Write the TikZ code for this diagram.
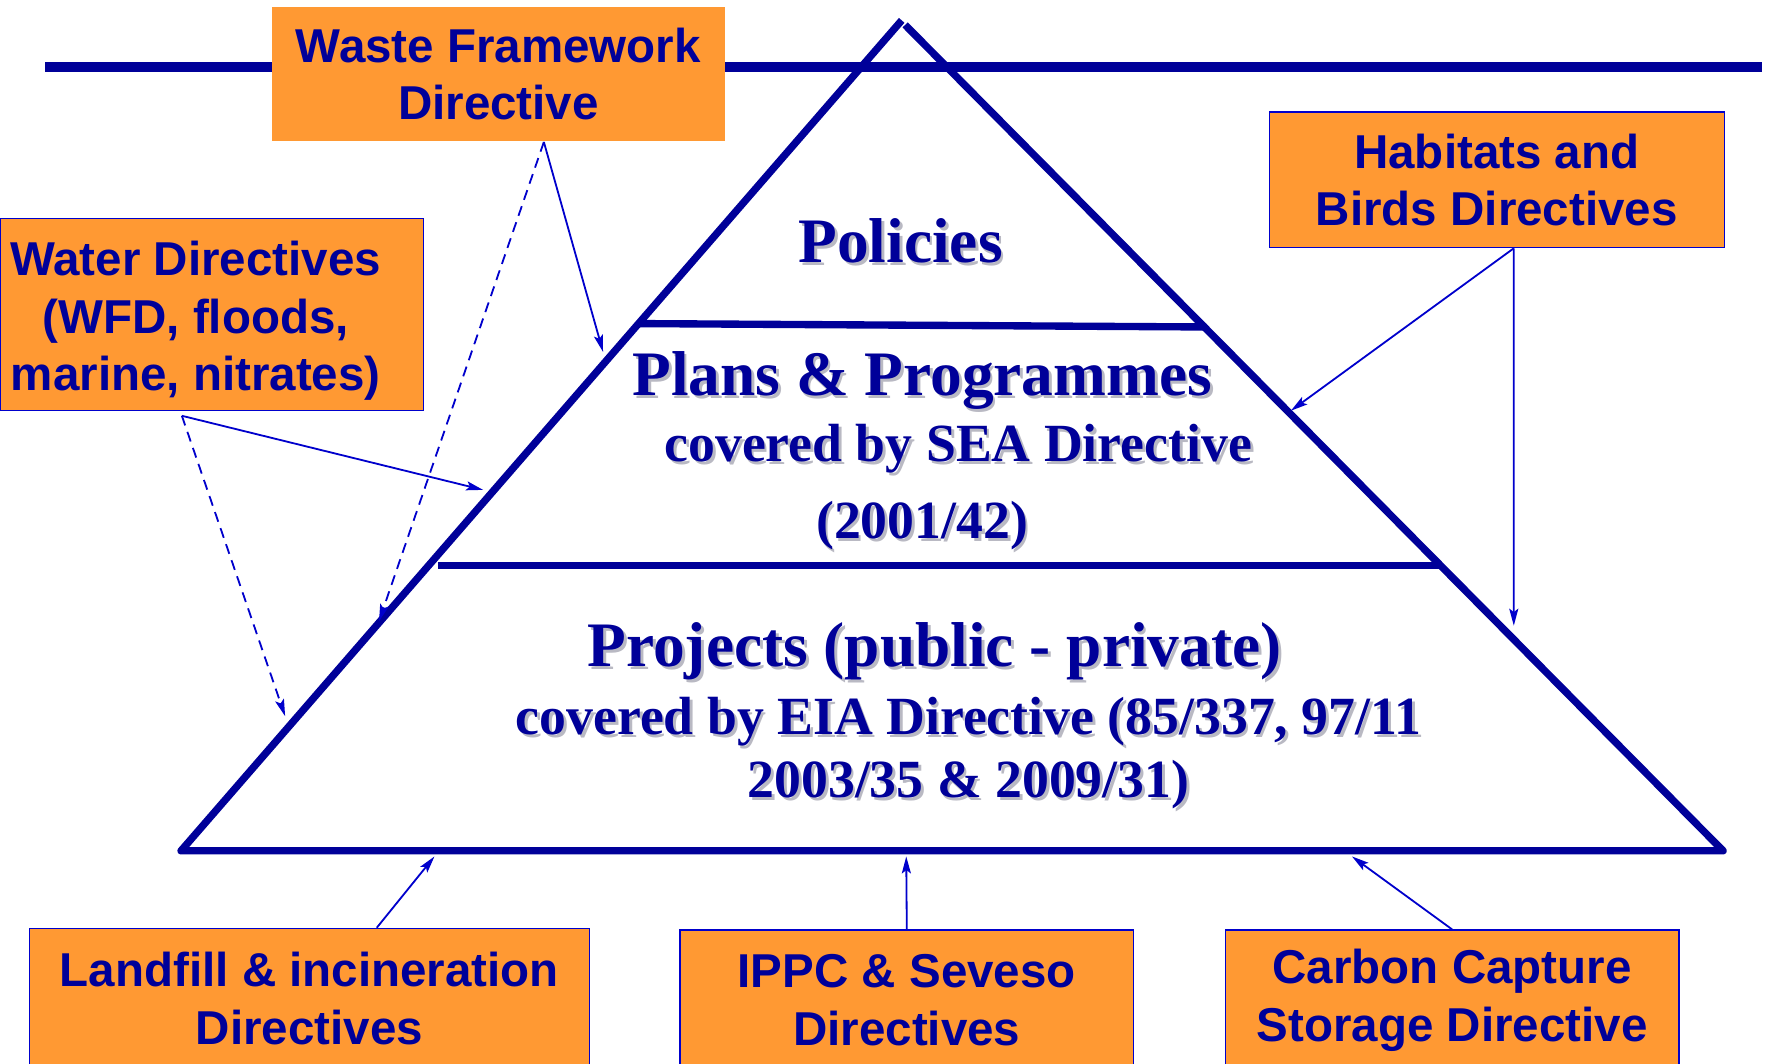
\documentclass[tikz,border=0pt]{standalone}
\usepackage{fontspec}
\setmainfont{Liberation Serif}
\setsansfont{Liberation Sans}
\usetikzlibrary{arrows.meta,calc}
\definecolor{navy}{RGB}{0,0,153}
\definecolor{arrowblue}{RGB}{0,0,204}
\definecolor{boxorange}{RGB}{255,153,51}
\definecolor{shadowgray}{RGB}{185,185,195}
\newcommand{\pyrtext}[4]{%
  \node[pyr, text=shadowgray, font=\bfseries\fontsize{#3}{#3}\selectfont] at ($#2+(2.5,2.5)$) {#4};
  \node[pyr, font=\bfseries\fontsize{#3}{#3}\selectfont] (#1) at #2 {#4};}
\begin{document}
\begin{tikzpicture}[x=1pt,y=-1pt,
  pyr/.style={anchor=base, inner sep=0pt, text=navy},
  box/.style={fill=boxorange, draw=arrowblue, line width=1pt, text=navy,
    font=\sffamily\bfseries\fontsize{42}{51}\selectfont, align=center, inner sep=0pt},
  boxtxt/.style={text=navy, font=\sffamily\bfseries\fontsize{42}{51}\selectfont, align=center, inner sep=0pt},
  thick line/.style={draw=navy, line width=6.5pt, line join=round},
  conn/.style={draw=arrowblue, line width=1.6pt, -{Stealth[length=15pt,width=8pt,inset=3pt]}},
  dconn/.style={conn, dash pattern=on 9pt off 6pt}]
\useasboundingbox (0,0) rectangle (1568,940);
\clip (0,0) rectangle (1568,940);
\fill[white] (0,0) rectangle (1568,940);

% top line
\draw[draw=navy, line width=8.5pt] (40,59) -- (1557,59);

% pyramid
\draw[thick line] (800,22) -- (1523,752) -- (160,752) -- (797,18);
\draw[thick line] (565,286) -- (1066,289);
\draw[thick line] (387,500) -- (1272,500);

% pyramid texts
\pyrtext{pol}{(796,232)}{56}{Policies}
\pyrtext{plans}{(815,350)}{56}{Plans \& Programmes}
\pyrtext{sea}{(847,408)}{47.5}{covered by SEA Directive}
\pyrtext{seayr}{(815,476)}{47.5}{(2001/42)}
\pyrtext{proj}{(826,589)}{56}{Projects (public - private)}
\pyrtext{eia}{(856,649)}{47.5}{covered by EIA Directive (85/337, 97/11}
\pyrtext{eiayr}{(856,705)}{47.5}{2003/35 \& 2009/31)}

% boxes
\node[box, draw=none, minimum width=401pt, minimum height=119pt] (waste) at (440.5,65.5)
  {Waste Framework\\Directive};
\node[box, minimum width=374pt, minimum height=170pt] (water) at (187,278) {};
\node[boxtxt] (watertxt) at (173,283.5) {Water Directives\\(WFD, floods,\\marine, nitrates)};
\node[box, minimum width=402pt, minimum height=120pt] (habitats) at (1323,159)
  {Habitats and\\Birds Directives};
\node[box, minimum width=495pt, minimum height=124pt] (landfill) at (273.5,882.5)
  {Landfill \& incineration\\Directives};
\node[box, minimum width=401pt, minimum height=124pt] (ippc) at (801.5,884)
  {IPPC \& Seveso\\Directives};
\node[box, minimum width=401pt, minimum height=124pt] (carbon) at (1283.5,884)
  {Carbon Capture\\Storage Directive};

% arrow targets
\coordinate (tWasteS) at (533,311);
\coordinate (tWasteD) at (335,549);
\coordinate (tWaterS) at (427,433);
\coordinate (tWaterD) at (252,633);
\coordinate (tHabD) at (1141,363);
\coordinate (tHabV) at (1338,553);
\coordinate (tLand) at (384,757);
\coordinate (tIppc) at (801,757);
\coordinate (tCarb) at (1195,757);

% connectors
\draw[conn] ($(waste.south west)!0.6!(waste.south east)$) -- (tWasteS);
\draw[dconn] ($(waste.south west)!0.6!(waste.south east)$) -- (tWasteD);
\draw[conn] ($(water.south west)!0.43!(water.south east)+(0,4)$) -- (tWaterS);
\draw[dconn] ($(water.south west)!0.43!(water.south east)+(0,4)$) -- (tWaterD);
\draw[conn] ($(habitats.south west)!0.537!(habitats.south east)$) -- (tHabD);
\draw[conn] ($(habitats.south west)!0.537!(habitats.south east)$) -- (tHabV);
\draw[conn] ($(landfill.north west)!0.62!(landfill.north east)$) -- (tLand);
\draw[conn] (ippc.north) -- (tIppc);
\draw[conn] (carbon.north) -- (tCarb);
\end{tikzpicture}
\end{document}
